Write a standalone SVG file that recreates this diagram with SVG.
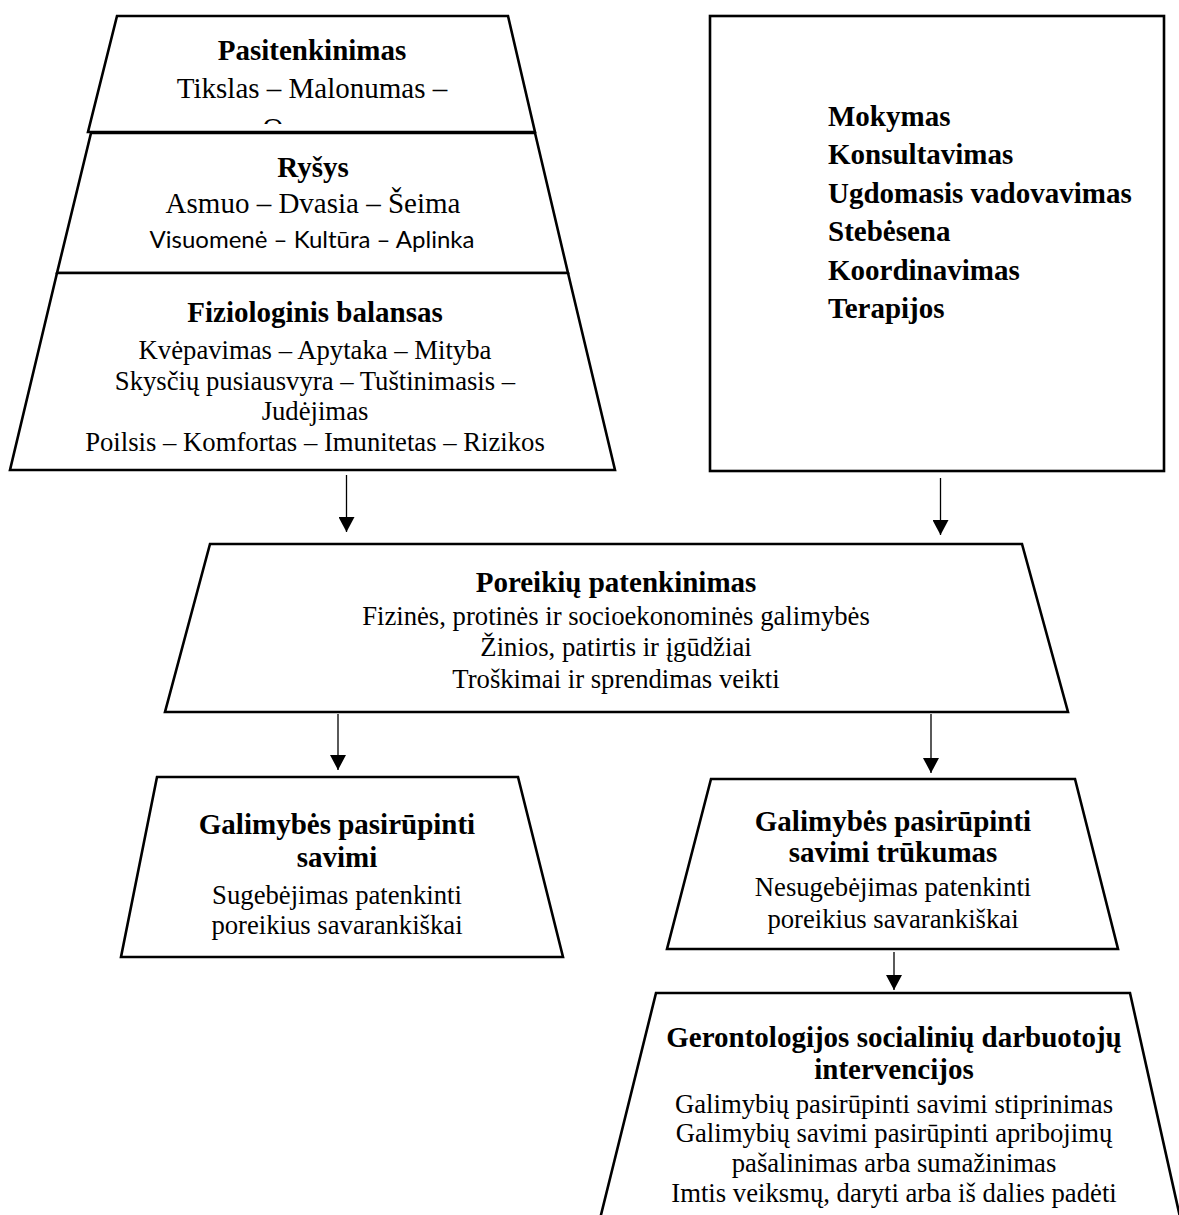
<svg xmlns="http://www.w3.org/2000/svg" width="1179" height="1215" viewBox="0 0 1179 1215">
<style>
.shape{fill:#fff;stroke:#000;stroke-width:2.6;stroke-linejoin:miter}
.t{font-family:"Liberation Serif","Times New Roman",serif;fill:#000;text-anchor:middle}
.b{font-weight:bold;font-size:29px}
.r{font-size:29px}
.s{font-size:26.7px}
.sans{font-family:Lato,"Open Sans",sans-serif;font-size:24px;fill:#000;text-anchor:middle}
.lst{font-family:"Liberation Serif","Times New Roman",serif;font-weight:bold;font-size:29px;fill:#000}
.conn{stroke:#000;stroke-width:1.3;fill:none}
</style>
<defs>
<marker id="arr" markerWidth="16" markerHeight="16" refX="15" refY="8" orient="auto" markerUnits="userSpaceOnUse">
<path d="M0,0 L15,8 L0,16 Z" fill="#000"/>
</marker>
<clipPath id="clipO"><rect x="200" y="100" width="150" height="24"/></clipPath>
</defs>
<rect width="1179" height="1215" fill="#fff"/>

<g id="pasitenkinimas">
<polygon class="shape" points="117,16 508,16 535,132 88,132"/>
<text class="t b" x="312" y="60">Pasitenkinimas</text>
<text class="t r" x="312" y="98">Tikslas – Malonumas –</text>
<text class="t r" x="273" y="137.5" clip-path="url(#clipO)">O</text>
</g>

<g id="rysys">
<polygon class="shape" points="91,133 535,133 568,273 57,273"/>
<text class="t b" x="313" y="177">Ryšys</text>
<text class="t r" x="313" y="213">Asmuo – Dvasia – Šeima</text>
<text class="sans" x="312" y="248">Visuomenė – Kultūra – Aplinka</text>
</g>

<g id="fiziologinis">
<polygon class="shape" points="57,273 568,273 615,470 10,470"/>
<text class="t b" x="315" y="322">Fiziologinis balansas</text>
<text class="t s" x="315" y="359">Kvėpavimas – Apytaka – Mityba</text>
<text class="t s" x="315" y="390">Skysčių pusiausvyra – Tuštinimasis –</text>
<text class="t s" x="315" y="420">Judėjimas</text>
<text class="t s" x="315" y="451">Poilsis – Komfortas – Imunitetas – Rizikos</text>
</g>

<g id="intervencijos-box">
<rect class="shape" x="710" y="16" width="454" height="455"/>
<text class="lst" x="828" y="125.5">Mokymas</text>
<text class="lst" x="828" y="164">Konsultavimas</text>
<text class="lst" x="828" y="202.5">Ugdomasis vadovavimas</text>
<text class="lst" x="828" y="241">Stebėsena</text>
<text class="lst" x="828" y="279.5">Koordinavimas</text>
<text class="lst" x="828" y="318">Terapijos</text>
</g>

<g id="poreikiu">
<polygon class="shape" points="210,544 1022,544 1068,712 165,712"/>
<text class="t b" x="616" y="592">Poreikių patenkinimas</text>
<text class="t s" x="616" y="625">Fizinės, protinės ir socioekonominės galimybės</text>
<text class="t s" x="616" y="656">Žinios, patirtis ir įgūdžiai</text>
<text class="t s" x="616" y="688">Troškimai ir sprendimas veikti</text>
</g>

<g id="galimybes">
<polygon class="shape" points="157,777 518,777 563,957 121,957"/>
<text class="t b" x="337" y="834">Galimybės pasirūpinti</text>
<text class="t b" x="337" y="867">savimi</text>
<text class="t s" x="337" y="904">Sugebėjimas patenkinti</text>
<text class="t s" x="337" y="934">poreikius savarankiškai</text>
</g>

<g id="trukumas">
<polygon class="shape" points="711,779 1075,779 1118,949 667,949"/>
<text class="t b" x="893" y="831">Galimybės pasirūpinti</text>
<text class="t b" x="893" y="862">savimi trūkumas</text>
<text class="t s" x="893" y="896">Nesugebėjimas patenkinti</text>
<text class="t s" x="893" y="928">poreikius savarankiškai</text>
</g>

<g id="gerontologijos">
<polygon class="shape" points="656,993 1130,993 1184,1235 596,1235"/>
<text class="t b" x="894" y="1047">Gerontologijos socialinių darbuotojų</text>
<text class="t b" x="894" y="1079">intervencijos</text>
<text class="t s" x="894" y="1113">Galimybių pasirūpinti savimi stiprinimas</text>
<text class="t s" x="894" y="1142">Galimybių savimi pasirūpinti apribojimų</text>
<text class="t s" x="894" y="1172">pašalinimas arba sumažinimas</text>
<text class="t s" x="894" y="1202">Imtis veiksmų, daryti arba iš dalies padėti</text>
</g>

<g id="connectors">
<line class="conn" x1="346.5" y1="475" x2="346.5" y2="532" marker-end="url(#arr)"/>
<line class="conn" x1="940.5" y1="478" x2="940.5" y2="535" marker-end="url(#arr)"/>
<line class="conn" x1="338" y1="714" x2="338" y2="770" marker-end="url(#arr)"/>
<line class="conn" x1="931" y1="714" x2="931" y2="773" marker-end="url(#arr)"/>
<line class="conn" x1="894" y1="952" x2="894" y2="990" marker-end="url(#arr)"/>
</g>
</svg>
